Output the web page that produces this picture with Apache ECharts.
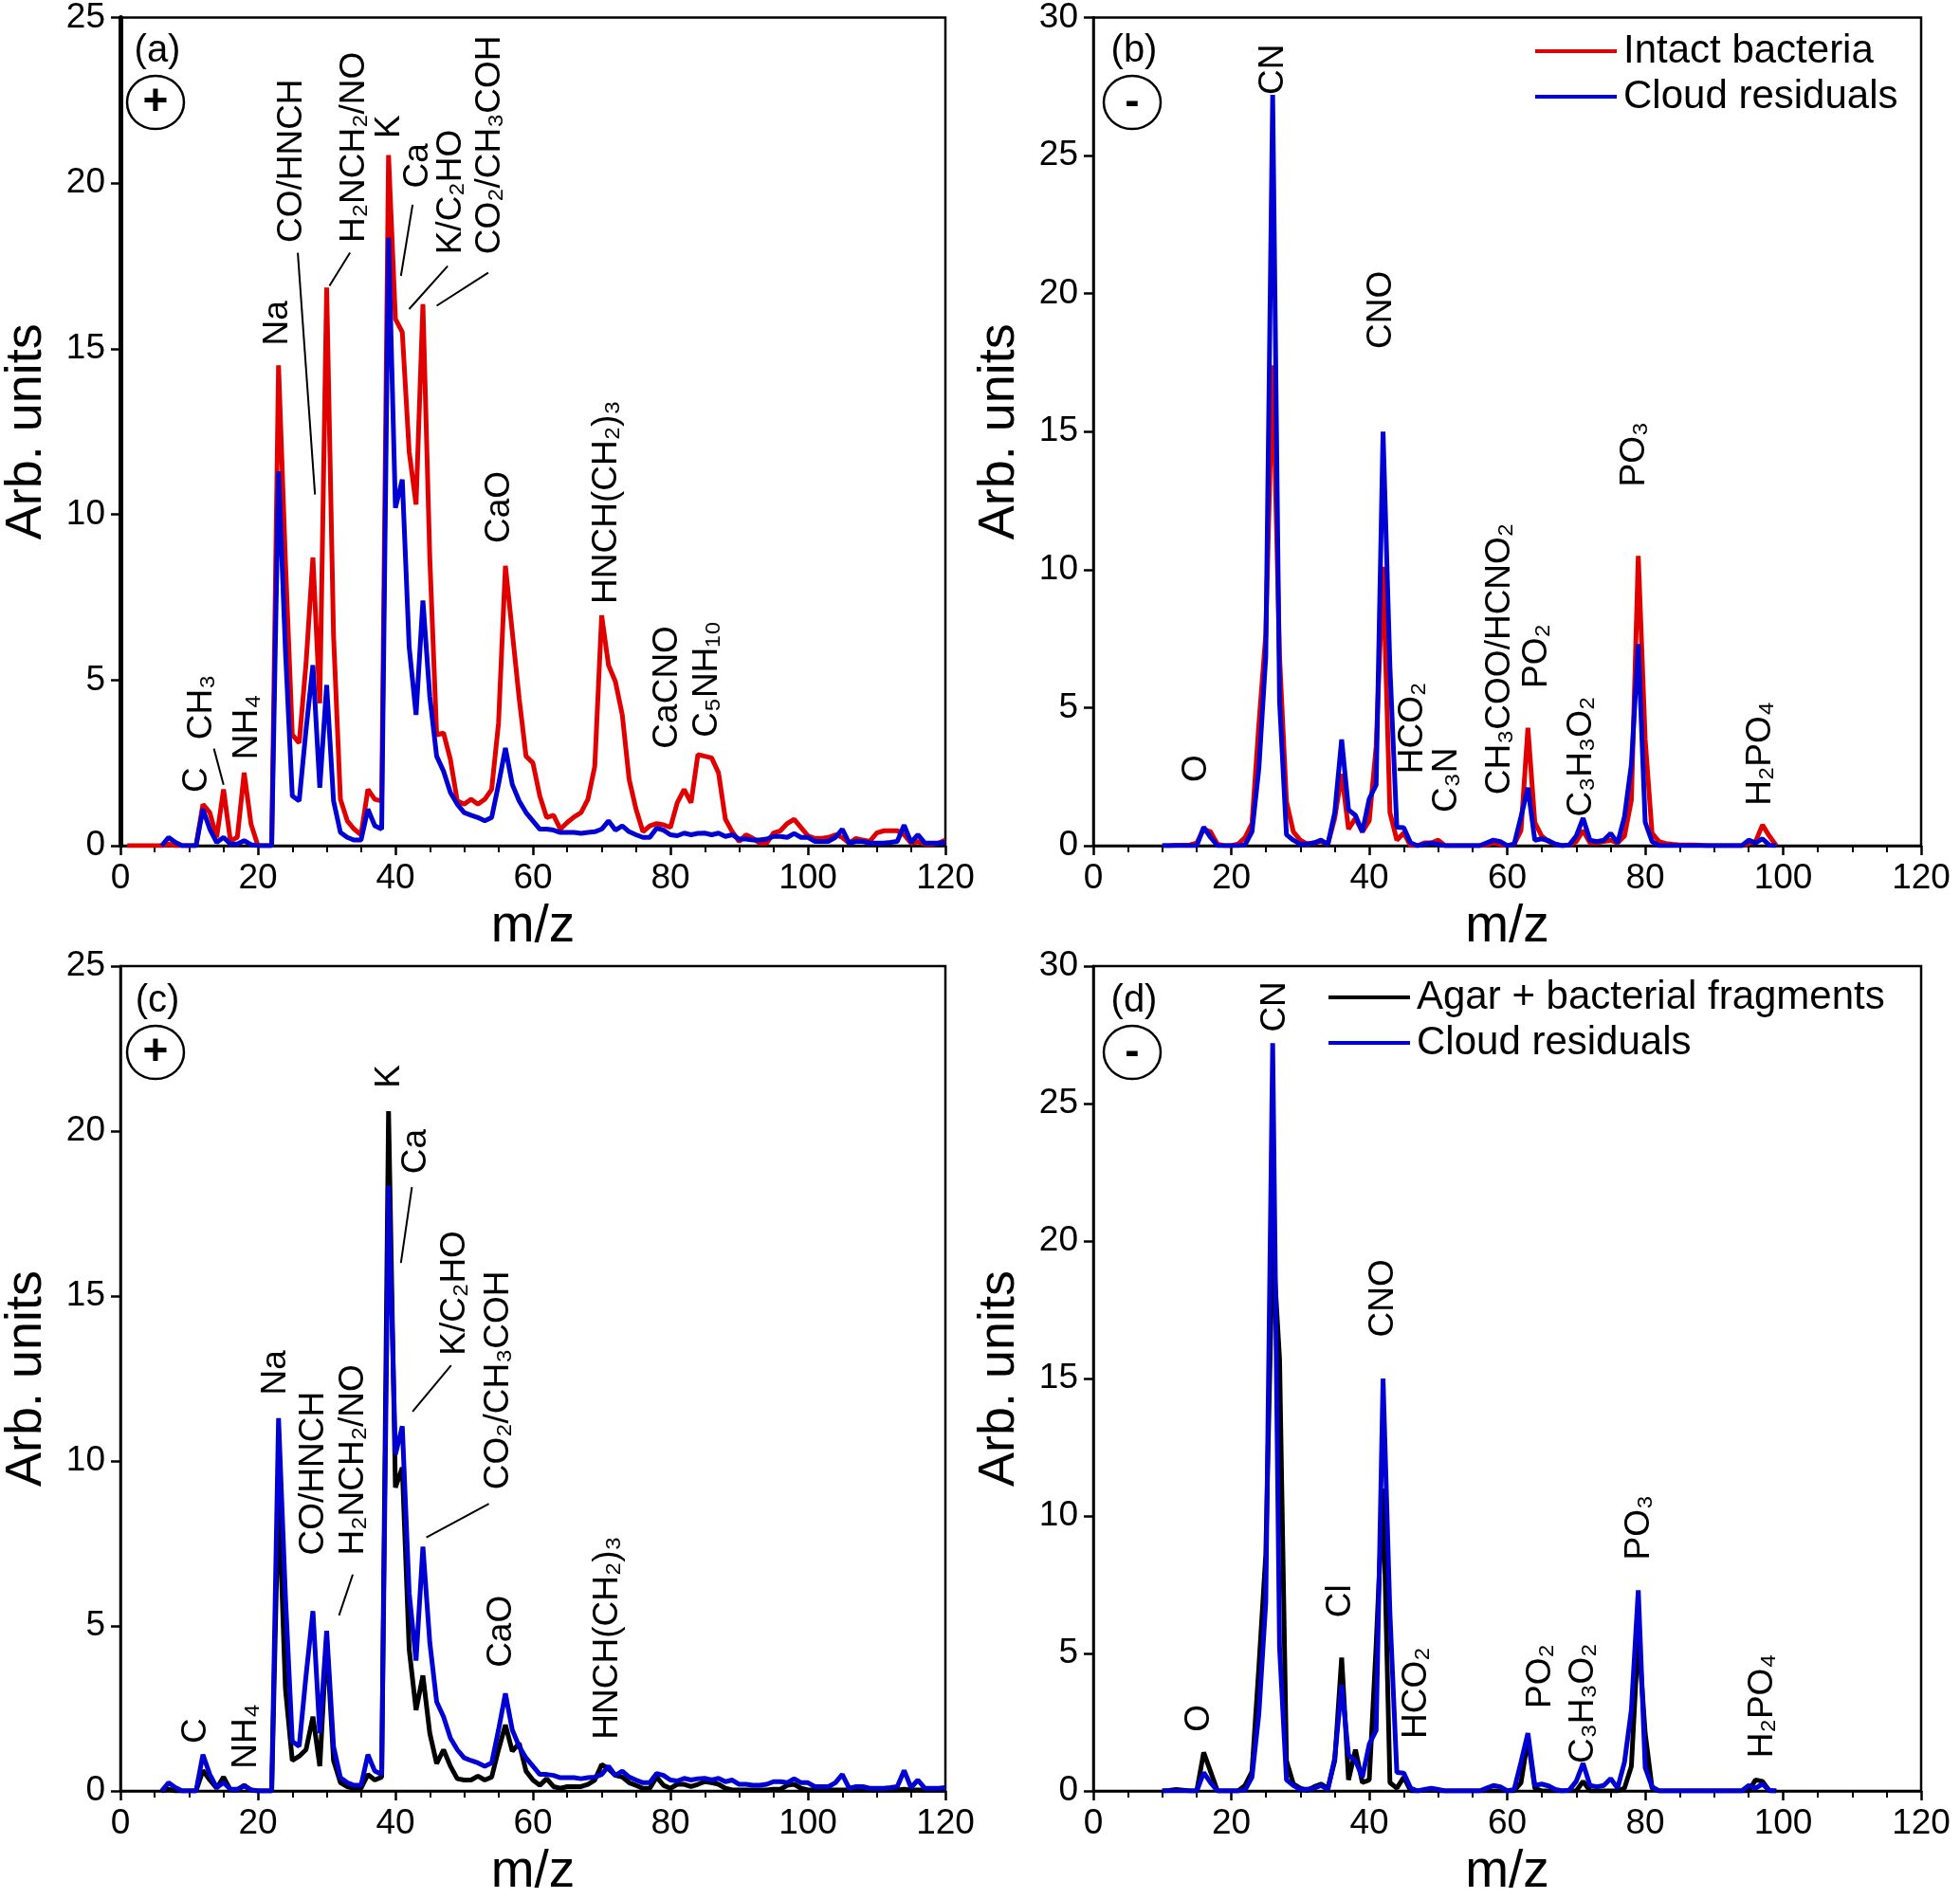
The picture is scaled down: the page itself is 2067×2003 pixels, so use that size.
<!DOCTYPE html>
<html>
<head>
<meta charset="utf-8">
<title>ATOFMS spectra</title>
<script src="https://cdn.jsdelivr.net/npm/echarts@6.0.0/dist/echarts.min.js"></script>
<style>
  html, body { margin: 0; padding: 0; background: #fff; }
  #main { width: 2067px; height: 2003px; }
</style>
</head>
<body>
<div id="main"></div>
<script>
// m/z positions 0..120
const massNumbers = Array.from({ length: 121 }, (_, i) => i);

// (a) positive ions, intact bacteria
const intactPos = [
  null, 0, 0, 0, 0, 0, 0, 0.05, 0, 0,
  0, 0, 1.25, 1.0, 0.25, 1.7, 0.15, 0.25, 2.2, 0.65,
  0, 0, 0, 14.5, 8.6, 3.35, 3.1, 5.5, 8.7, 4.3,
  16.85, 6.35, 1.4, 0.75, 0.5, 0.33, 1.7, 1.4, 1.35, 20.85,
  15.9, 15.5, 11.9, 10.3, 16.35, 8.7, 3.35, 3.4, 2.6, 1.35,
  1.25, 1.4, 1.25, 1.4, 1.7, 3.7, 8.45, 6.45, 4.45, 2.7,
  2.5, 1.5, 0.85, 0.92, 0.5, 0.7, 0.87, 1.0, 1.4, 2.4,
  6.95, 5.45, 4.95, 3.95, 2.0, 1.1, 0.42, 0.6, 0.67, 0.63,
  0.55, 1.3, 1.7, 1.3, 2.75, 2.7, 2.65, 2.2, 0.8, 0.42,
  0.13, 0.33, 0.22, 0.08, 0.08, 0.38, 0.45, 0.67, 0.8, 0.55,
  0.3, 0.22, 0.22, 0.25, 0.33, 0.25, 0.08, 0.22, 0.17, 0.13,
  0.38, 0.45, 0.45, 0.45, 0.33, 0.08, 0.12, 0.05, 0.05, 0.08,
  0.17
];

// (a)/(c) positive ions, cloud residuals
const cloudPos = [
  null, null, null, null, null, null, 0, 0.25, 0.1, 0,
  0, 0, 1.1, 0.5, 0.1, 0.25, 0.05, 0.05, 0.15, 0.03,
  0, 0, 0, 11.3, 5.9, 1.5, 1.35, 3.5, 5.45, 1.75,
  4.85, 1.35, 0.4, 0.25, 0.17, 0.17, 1.1, 0.6, 0.5, 18.35,
  10.2, 11.05, 6.0, 3.95, 7.4, 4.5, 2.7, 2.25, 1.6, 1.25,
  1.0, 0.92, 0.85, 0.75, 0.85, 1.85, 2.95, 1.85, 1.35, 1.0,
  0.75, 0.5, 0.5, 0.47, 0.4, 0.4, 0.4, 0.37, 0.4, 0.42,
  0.5, 0.75, 0.47, 0.6, 0.42, 0.33, 0.25, 0.25, 0.53, 0.47,
  0.33, 0.3, 0.38, 0.33, 0.37, 0.38, 0.33, 0.38, 0.28, 0.33,
  0.2, 0.2, 0.17, 0.17, 0.2, 0.28, 0.28, 0.25, 0.37, 0.25,
  0.25, 0.13, 0.13, 0.13, 0.25, 0.5, 0.08, 0.13, 0.13, 0.08,
  0.08, 0.08, 0.1, 0.13, 0.62, 0.1, 0.33, 0.08, 0.08, 0.08,
  0.1
];

// (c) positive ions, agar + bacterial fragments
const agarPos = [
  null, null, null, null, null, null, 0, 0.05, 0, 0,
  0, 0, 0.62, 0.33, 0.08, 0.42, 0.03, 0.03, 0.17, 0.03,
  0, 0, 0, 9.1, 3.1, 0.92, 1.05, 1.25, 2.25, 0.75,
  4.6, 0.92, 0.25, 0.13, 0.08, 0.08, 0.5, 0.33, 0.42, 20.6,
  9.2, 9.8, 4.3, 2.45, 3.5, 1.75, 0.83, 1.25, 0.75, 0.37,
  0.33, 0.33, 0.45, 0.33, 0.42, 1.25, 2.0, 1.2, 1.45, 0.6,
  0.33, 0.17, 0.37, 0.13, 0.08, 0.13, 0.13, 0.13, 0.2, 0.33,
  0.8, 0.67, 0.47, 0.42, 0.25, 0.17, 0.08, 0.08, 0.42, 0.17,
  0.08, 0.2, 0.2, 0.13, 0.2, 0.28, 0.25, 0.2, 0.08, 0.03,
  0.03, 0.03, 0.03, 0.03, 0.03, 0.05, 0.05, 0.17, 0.2, 0.08,
  0.03, 0.03, 0.03, 0.03, 0.03, 0.03, 0.03, 0.03, 0.03, 0.03,
  0.03, 0.03, 0.03, 0.03, 0.05, 0.03, 0.03, 0.03, 0.03, 0.03,
  0.03
];

// (b) negative ions, intact bacteria
const intactNeg = [
  null, null, null, null, null, null, null, null, null, null,
  0, 0, 0.02, 0.02, 0.03, 0.1, 0.6, 0.5, 0.05, 0,
  0, 0.06, 0.3, 0.8, 4.4, 7.65, 17.4, 6.85, 1.6, 0.5,
  0.2, 0.06, 0.1, 0.15, 0.06, 1.0, 2.6, 0.6, 1.0, 0.5,
  0.9, 3.6, 10.1, 1.2, 0.2, 0.46, 0, 0, 0.1, 0.1,
  0.2, 0, 0, 0, 0, 0, 0, 0.03, 0.1, 0.05,
  0, 0.05, 0.55, 4.27, 0.85, 0.35, 0.15, 0.05, 0, 0.03,
  0.15, 0.55, 0.1, 0.1, 0.15, 0.2, 0.1, 0.35, 1.65, 10.5,
  3.85, 0.45, 0.15, 0.08, 0.05, 0.03, 0.03, 0.03, 0.02, 0,
  0, 0, 0, 0, 0, 0.08, 0.15, 0.75, 0.35, 0,
  null, null, null, null, null, null, null, null, null, null,
  null, null, null, null, null, null, null, null, null, null,
  null
];

// (b)/(d) negative ions, cloud residuals
const cloudNeg = [
  null, null, null, null, null, null, null, null, null, null,
  0, 0, 0, 0, 0, 0, 0.67, 0.3, 0, 0,
  0, 0, 0.03, 0.5, 2.8, 6.85, 27.2, 5.2, 0.4, 0.2,
  0.06, 0.06, 0.1, 0.2, 0.05, 1.2, 3.85, 1.3, 1.1, 0.5,
  1.7, 2.2, 15.0, 6.45, 0.67, 0.65, 0.1, 0, 0.05, 0.1,
  0.05, 0, 0, 0, 0, 0, 0, 0.1, 0.2, 0.15,
  0, 0.05, 1.05, 2.1, 0.2, 0.25, 0.18, 0.05, 0, 0.03,
  0.35, 1.0, 0.2, 0.15, 0.2, 0.45, 0.1, 1.05, 2.95, 7.3,
  0.85, 0.15, 0, 0, 0, 0, 0, 0, 0, 0,
  0, 0, 0, 0, 0, 0.2, 0.1, 0.25, 0.02, 0,
  null, null, null, null, null, null, null, null, null, null,
  null, null, null, null, null, null, null, null, null, null,
  null
];

// (d) negative ions, agar + bacterial fragments
const agarNeg = [
  null, null, null, null, null, null, null, null, null, null,
  0, 0.02, 0.05, 0.03, 0, 0, 1.4, 0.7, 0, 0,
  0, 0, 0.2, 0.7, 4.5, 8.6, 20.0, 15.7, 1.1, 0.25,
  0.1, 0.02, 0.15, 0.25, 0.1, 1.1, 4.85, 0.4, 1.5, 0.3,
  0.4, 5.3, 11.0, 0.3, 0.1, 0.5, 0, 0, 0.03, 0.03,
  0, 0, 0, 0, 0, 0, 0, 0, 0, 0,
  0, 0, 0.3, 1.9, 0.1, 0, 0, 0, 0, 0,
  0, 0.35, 0, 0, 0, 0, 0, 0.1, 0.9, 5.7,
  2.1, 0.1, 0, 0, 0, 0, 0, 0, 0, 0,
  0, 0, 0, 0, 0, 0, 0.4, 0.35, 0, 0,
  null, null, null, null, null, null, null, null, null, null,
  null, null, null, null, null, null, null, null, null, null,
  null
];

// peak labels: [panel, text, m/z, value where the rotated text starts]
const peakLabels = [
  [0, 'C', 11.2, 1.6], [0, 'CH₃', 11.9, 3.2], [0, 'NH₄', 18.5, 2.6],
  [0, 'Na', 22.9, 15.1], [0, 'CO/HNCH', 24.9, 18.2], [0, 'H₂NCH₂/NO', 34.0, 18.2],
  [0, 'K', 39.1, 21.35], [0, 'Ca', 43.3, 19.85], [0, 'K/C₂HO', 48.1, 17.85],
  [0, 'CO₂/CH₃COH', 53.8, 17.85], [0, 'CaO', 55.2, 9.13], [0, 'HNCH(CH₂)₃', 70.7, 7.3],
  [0, 'CaCNO', 79.6, 2.93], [0, 'C₅NH₁₀', 85.3, 3.27],
  [1, 'O', 15.0, 2.3], [1, 'CN', 26.1, 27.2], [1, 'CNO', 41.7, 18.0],
  [1, 'HCO₂', 46.3, 2.6], [1, 'C₃N', 51.2, 1.2], [1, 'CH₃COO/HCNO₂', 58.9, 1.85],
  [1, 'PO₂', 64.3, 5.7], [1, 'C₃H₃O₂', 70.7, 1.05], [1, 'PO₃', 78.5, 13.0],
  [1, 'H₂PO₄', 96.8, 1.45],
  [2, 'C', 11.0, 1.44], [2, 'NH₄', 18.3, 0.67], [2, 'Na', 22.6, 12.0],
  [2, 'CO/HNCH', 28.1, 7.14], [2, 'H₂NCH₂/NO', 33.9, 7.14], [2, 'K', 39.2, 21.3],
  [2, 'Ca', 43.0, 18.7], [2, 'K/C₂HO', 48.6, 13.2], [2, 'CO₂/CH₃COH', 55.0, 9.13],
  [2, 'CaO', 55.4, 3.74], [2, 'HNCH(CH₂)₃', 70.9, 1.56],
  [3, 'O', 15.3, 2.15], [3, 'CN', 26.4, 27.6], [3, 'Cl', 35.9, 6.3],
  [3, 'CNO', 42.1, 16.5], [3, 'HCO₂', 46.8, 1.9], [3, 'PO₂', 64.8, 3.0],
  [3, 'C₃H₃O₂', 71.0, 1.0], [3, 'PO₃', 79.2, 8.4], [3, 'H₂PO₄', 97.0, 1.2]
];

// leader lines: [panel, m/z1, value1, m/z2, value2]
const leaderLines = [
  [0, 13.6, 2.93, 15.0, 1.84],
  [0, 25.8, 17.9, 28.3, 10.6],
  [0, 33.4, 17.9, 30.4, 16.9],
  [0, 42.5, 19.35, 40.8, 17.2],
  [0, 47.6, 17.5, 42.0, 16.2],
  [0, 53.5, 17.3, 46.0, 16.3],
  [2, 33.8, 6.56, 31.8, 5.32],
  [2, 42.4, 18.3, 40.8, 16.0],
  [2, 48.1, 12.9, 42.5, 11.5],
  [2, 53.6, 8.7, 44.5, 7.68]
];

const panelTags = ['(a)', '(b)', '(c)', '(d)'];
const panelSigns = ['+', '-', '+', '-'];
const yMax = [25, 30, 25, 30];

const RED = '#e00000';
const BLUE = '#0000d2';
const BLACK = '#000000';
const FONT = '"Liberation Sans", Arial, "DejaVu Sans", sans-serif';

const panels = [
  { left: 123, top: 17, width: 874, height: 875 },
  { left: 1153, top: 17, width: 873, height: 875 },
  { left: 123, top: 1019, width: 874, height: 875 },
  { left: 1153, top: 1019, width: 873, height: 875 }
];

function toPairs(values) {
  return values.map((v, i) => [massNumbers[i], v]).filter(p => p[1] !== null);
}

function makeX(i) {
  return {
    type: 'value', gridIndex: i, min: 0, max: 120, interval: 20,
    axisLine: { onZero: false, lineStyle: { color: BLACK, width: 2.5 } },
    axisTick: { length: 10, lineStyle: { color: BLACK, width: 2.5 } },
    minorTick: { show: true, splitNumber: 4, length: 7, lineStyle: { color: BLACK, width: 2 } },
    axisLabel: { fontSize: 37, color: BLACK, margin: 16, fontFamily: FONT },
    splitLine: { show: false },
    name: 'm/z', nameLocation: 'middle', nameGap: 58,
    nameTextStyle: { fontSize: 55, color: BLACK, fontFamily: FONT }
  };
}

function makeY(i) {
  return {
    type: 'value', gridIndex: i, min: 0, max: yMax[i], interval: 5,
    axisLine: { show: true, onZero: false, lineStyle: { color: BLACK, width: 2.5 } },
    axisTick: { show: true, length: 10, lineStyle: { color: BLACK, width: 2.5 } },
    axisLabel: { fontSize: 37, color: BLACK, margin: 16, fontFamily: FONT },
    splitLine: { show: false },
    name: 'Arb. units', nameLocation: 'middle', nameRotate: 90, nameGap: 72,
    nameTextStyle: { fontSize: 54, color: BLACK, fontFamily: FONT }
  };
}

function line(name, color, axis, values) {
  return {
    name: name, type: 'line', xAxisIndex: axis, yAxisIndex: axis,
    data: toPairs(values), symbol: 'none', animation: false,
    lineStyle: { color: color, width: 5 }, itemStyle: { color: color }
  };
}

const yAxes = [0, 1, 2, 3].map(makeY);
// thick right frame of panel (a)
yAxes.push({
  type: 'value', gridIndex: 0, position: 'right', min: 0, max: 1,
  axisLine: { show: true, lineStyle: { color: BLACK, width: 5 } },
  axisTick: { show: false }, axisLabel: { show: false }, splitLine: { show: false }
});

const legendBase = {
  orient: 'vertical', icon: 'rect', itemWidth: 86, itemHeight: 4, itemGap: 6,
  padding: 0, textStyle: { fontSize: 42, color: BLACK, fontFamily: FONT, padding: [0, 0, 0, 2] }
};

const chart = echarts.init(document.getElementById('main'));

const option = {
  backgroundColor: '#fff',
  animation: false,
  grid: panels.map(p => Object.assign({ show: true, borderColor: BLACK, borderWidth: 2.5 }, p)),
  xAxis: [0, 1, 2, 3].map(makeX),
  yAxis: yAxes,
  legend: [
    Object.assign({ left: 1619, top: 33, data: ['Intact bacteria', 'Cloud residuals'] }, legendBase),
    Object.assign({ left: 1401, top: 1031, data: ['Agar + bacterial fragments', 'Cloud residuals'] }, legendBase)
  ],
  series: [
    line('Intact bacteria', RED, 0, intactPos),
    line('Cloud residuals', BLUE, 0, cloudPos),
    line('Intact bacteria', RED, 1, intactNeg),
    line('Cloud residuals', BLUE, 1, cloudNeg),
    line('Agar + bacterial fragments', BLACK, 2, agarPos),
    line('Cloud residuals', BLUE, 2, cloudPos),
    line('Agar + bacterial fragments', BLACK, 3, agarNeg),
    line('Cloud residuals', BLUE, 3, cloudNeg)
  ]
};

option && chart.setOption(option);

// annotations placed through the axes
const graphics = [];
peakLabels.forEach(([g, text, mz, v]) => {
  const p = chart.convertToPixel({ gridIndex: g }, [mz, v]);
  graphics.push({
    type: 'text', x: p[0], y: p[1], rotation: Math.PI / 2, z: 100,
    style: { text: text, fontSize: 37, fontFamily: FONT, fill: BLACK, textAlign: 'left', textVerticalAlign: 'middle' }
  });
});
leaderLines.forEach(([g, x1, y1, x2, y2]) => {
  const a = chart.convertToPixel({ gridIndex: g }, [x1, y1]);
  const b = chart.convertToPixel({ gridIndex: g }, [x2, y2]);
  graphics.push({
    type: 'line', z: 100,
    shape: { x1: a[0], y1: a[1], x2: b[0], y2: b[1] },
    style: { stroke: BLACK, lineWidth: 2 }
  });
});
panels.forEach((p, i) => {
  graphics.push({
    type: 'text', x: p.left + 43, y: p.top + 37, z: 100,
    style: { text: panelTags[i], fontSize: 40, fontFamily: FONT, fill: BLACK, textAlign: 'center', textVerticalAlign: 'middle' }
  });
  graphics.push({
    type: 'ellipse', z: 100,
    shape: { cx: p.left + 41, cy: p.top + 91, rx: 30, ry: 28 },
    style: { fill: 'none', stroke: BLACK, lineWidth: 2.5 }
  });
  graphics.push({
    type: 'text', x: p.left + 41, y: p.top + 91, z: 100,
    style: { text: panelSigns[i], fontSize: 46, fontWeight: 'bold', fontFamily: FONT, fill: BLACK, textAlign: 'center', textVerticalAlign: 'middle' }
  });
});
chart.setOption({ graphic: graphics });

window.addEventListener('resize', chart.resize);
</script>
</body>
</html>
